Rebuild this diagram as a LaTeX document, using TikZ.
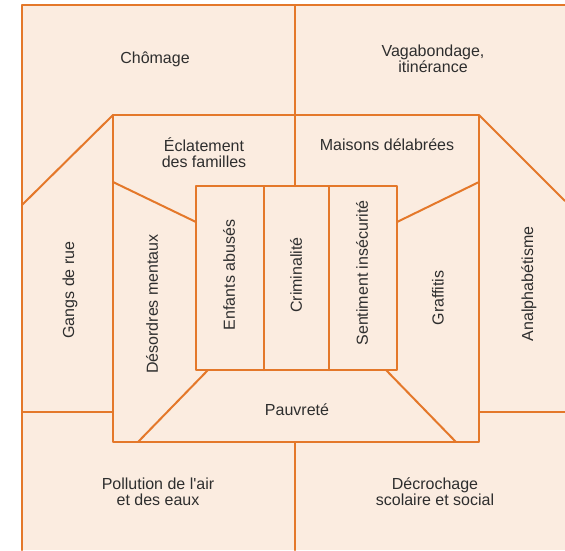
\documentclass[tikz,border=0pt]{standalone}
\usepackage{fontspec}
\setmainfont{Liberation Sans}
\usepackage{tikz}
\definecolor{paper}{HTML}{FBECE0}
\definecolor{rust}{HTML}{E4782A}
\definecolor{ink}{HTML}{2E2E2E}
\tikzset{
  wall/.style={draw=rust, line width=2pt, line cap=round, line join=round},
  lab/.style={text=ink, font=\fontsize{16}{16}\selectfont, align=center, inner sep=0pt},
  labv/.style={lab, rotate=90},
}

\begin{document}
\begin{tikzpicture}[x=1pt, y=-1pt]
  \useasboundingbox (0,0) rectangle (565,550);
  \fill[paper] (22,5) rectangle (565,550);
  \coordinate (MA) at (113,115);
  \coordinate (MB) at (479,115);
  \coordinate (MC) at (479,442);
  \coordinate (MD) at (113,442);
  \coordinate (IA) at (196,186);
  \coordinate (IB) at (397,186);
  \coordinate (IC) at (397,370);
  \coordinate (ID) at (196,370);
  \draw[wall] (22,550) -- (22,5) -- (565,5);
  \draw[wall] (MA) rectangle (MC);
  \draw[wall] (IA) rectangle (IC);
  \draw[wall] (264,186) -- (264,370);
  \draw[wall] (329,186) -- (329,370);
  \draw[wall] (295,5) -- (295,186);
  \draw[wall] (295,442) -- (295,550);
  \draw[wall] (MA) -- (22,205);
  \draw[wall] (MB) -- (565,201);
  \draw[wall] (22,412) -- (113,412);
  \draw[wall] (479,412) -- (565,412);
  \draw[wall] (113,182) -- (196,222);
  \draw[wall] (397,222) -- (479,182);
  \draw[wall] (208,370) -- (138,442);
  \draw[wall] (386,370) -- (456,442);
  \node[lab] (chomage) at (155,59) {Chômage};
  \node[lab] (vagab) at (433,59) {Vagabondage,\\itinérance};
  \node[lab] (eclat) at (204,153) {Éclatement\\des familles};
  \node[lab] (maisons) at (387,145) {Maisons délabrées};
  \node[labv] (gangs) at (70,290) {Gangs de rue};
  \node[labv] (desord) at (152,304) {Désordres mentaux};
  \node[labv] (enfants) at (229,275) {Enfants abusés};
  \node[labv] (crimin) at (296,275) {Criminalité};
  \node[labv] (sentim) at (362,273) {Sentiment insécurité};
  \node[labv] (graff) at (438,298) {Graffitis};
  \node[labv] (analph) at (529,284) {Analphabétisme};
  \node[lab] (pauv) at (297,410) {Pauvreté};
  \node[lab] (pollu) at (158,492) {Pollution de l\textquotesingle air\\et des eaux};
  \node[lab] (decroch) at (435,492) {Décrochage\\scolaire et social};
\end{tikzpicture}
\end{document}
